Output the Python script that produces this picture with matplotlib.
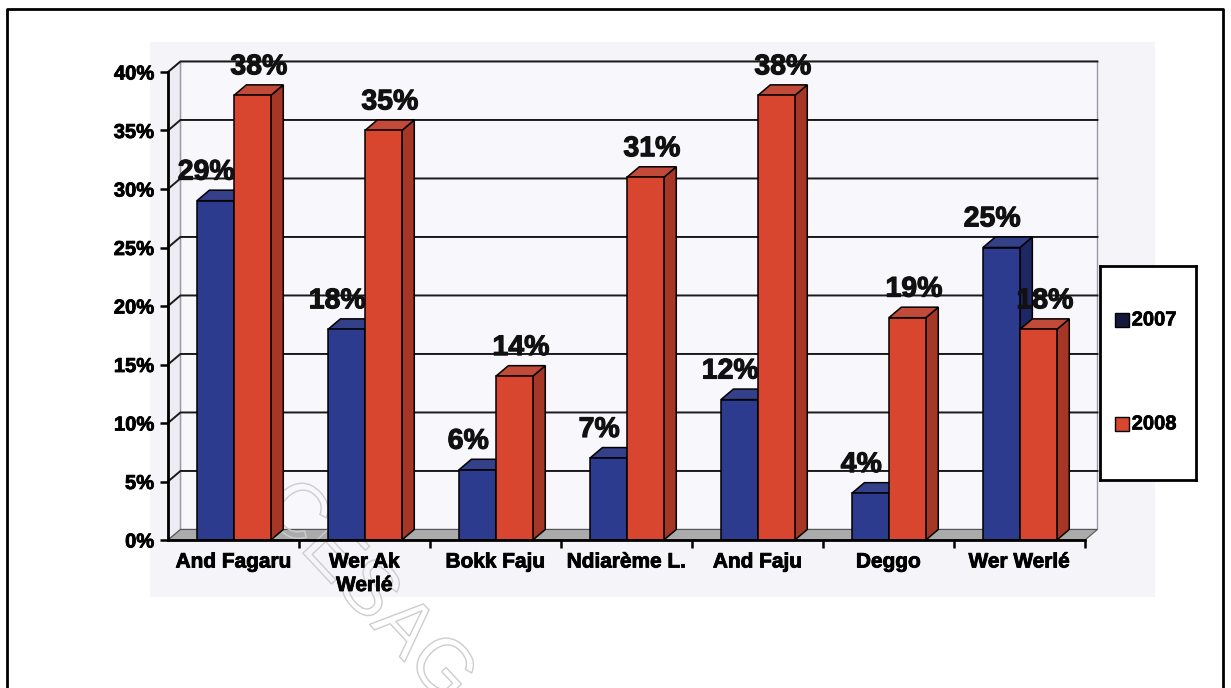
import numpy as np
import matplotlib
matplotlib.use('Agg')
import matplotlib.pyplot as plt
import matplotlib.patheffects as pe
from matplotlib.patches import Polygon, Rectangle, PathPatch
from matplotlib.lines import Line2D
from matplotlib.textpath import TextPath
from matplotlib.font_manager import FontProperties
from matplotlib.transforms import Affine2D

categories = ['And Fagaru', 'Wer Ak\nWerlé', 'Bokk Faju', 'Ndiarème L.',
              'And Faju', 'Deggo', 'Wer Werlé']
pct_2007 = [29, 18, 6, 7, 12, 4, 25]
pct_2008 = [38, 35, 14, 31, 38, 19, 18]
years = ['2007', '2008']
yticks = np.arange(0, 41, 5)

plt.rcParams['font.family'] = ['Liberation Sans', 'DejaVu Sans']

W, H = 1231, 688
DPI = 100
heavy = [pe.withStroke(linewidth=0.8, foreground='#111111')]

def fpos(x, y):
    # pixel position (from top-left) -> figure fraction
    return x / W, 1 - y / H

fig = plt.figure(figsize=(W / DPI, H / DPI), dpi=DPI)

# light chart area and outer frame
x0, y0 = fpos(150, 597)
fig.patches.append(Rectangle((x0, y0), 1005 / W, 555 / H, transform=fig.transFigure,
                             facecolor='#f5f5f9', edgecolor='none', zorder=-5))
fig.add_artist(Line2D([7 / W, 7 / W, 1223 / W, 1223 / W], [0, 1 - 9 / H, 1 - 9 / H, 0],
                      transform=fig.transFigure, color='black', lw=2, zorder=-4))

ax = fig.add_axes([168 / W, 148 / H, 917 / W, 468 / H])
ax.patch.set_visible(False)
n = len(categories)
ymax = 40
dx, dy = 0.095, 0.9   # depth offset of the 3d look

# walls and floor
ax.add_patch(Rectangle((dx, dy), n, ymax, facecolor='#f8f8fc', edgecolor='#9a9aa8',
                       lw=1, zorder=0.5, clip_on=False))
ax.add_patch(Polygon([(0, 0), (dx, dy), (dx, ymax + dy), (0, ymax)], facecolor='#ececf2',
                     edgecolor='#9a9aa8', lw=1, zorder=0.6, clip_on=False))
ax.add_patch(Polygon([(0, 0), (n, 0), (n + dx, dy), (dx, dy)], facecolor='#ababab',
                     edgecolor='#555555', lw=0.8, zorder=0.7, clip_on=False))
for t in yticks[1:]:
    ax.plot([0, dx, n + dx], [t, t + dy, t + dy], color='#1a1a1a', lw=1.4,
            zorder=0.8, clip_on=False)

# watermark
tp = TextPath((0, 0), 'CESAG', size=56, prop=FontProperties(family='Liberation Sans'))
bb = tp.get_extents()
tr = (Affine2D().translate(-(bb.x0 + bb.x1) / 2, -(bb.y0 + bb.y1) / 2)
      .scale(DPI / 72).rotate_deg(-47).translate(372, H - 588))
ax.add_artist(PathPatch(tp, transform=tr, facecolor='none', edgecolor='#cdcdcd',
                        lw=1.0, zorder=1, clip_on=False))

# bars
width = 0.282
offsets = [0.221, 0.503]
shades = [('#2c3b8e', '#1d2763', '#34408a'), ('#d9462f', '#a63626', '#c24a38')]
label_shift = [-0.07, 0.05]
series = [pct_2007, pct_2008]
for i in range(n):
    for j in range(2):
        h = series[j][i]
        a = i + offsets[j]
        b = a + width
        front, side, top = shades[j]
        ax.add_patch(Polygon([(b, 0), (b + dx, dy), (b + dx, h + dy), (b, h)],
                             facecolor=side, edgecolor='black', lw=1.1, zorder=2))
        ax.add_patch(Polygon([(a, h), (b, h), (b + dx, h + dy), (a + dx, h + dy)],
                             facecolor=top, edgecolor='black', lw=1.1, zorder=2))
        ax.add_patch(Polygon([(a, 0), (b, 0), (b, h), (a, h)],
                             facecolor=front, edgecolor='black', lw=1.1, zorder=2.1))
        ax.text(a + width / 2 + label_shift[j], h + 2.4, f'{h}%', ha='center', va='center',
                fontsize=20.5, fontweight='bold', color='#111111', zorder=5, clip_on=False,
                path_effects=heavy)

ax.set_xlim(0, n)
ax.set_ylim(0, ymax)
ax.set_yticks(yticks)
ax.set_yticklabels([f'{t}%' for t in yticks], fontsize=14.5, fontweight='bold')
ax.tick_params(axis='y', direction='out', length=6, width=1.8, pad=4)
ax.set_xticks(np.arange(1, n + 1))
ax.set_xticklabels([])
ax.tick_params(axis='x', which='major', direction='out', length=6, width=1.8)
ax.set_xticks(np.arange(n) + 0.5, minor=True)
ax.set_xticklabels(categories, minor=True, fontsize=15, fontweight='bold',
                   linespacing=1.3)
ax.tick_params(axis='x', which='minor', length=0, pad=9)
for lbl in ax.get_yticklabels() + ax.get_xticklabels(minor=True):
    lbl.set_path_effects([pe.withStroke(linewidth=0.6, foreground='black')])
for s in ['top', 'right']:
    ax.spines[s].set_visible(False)
for s in ['left', 'bottom']:
    ax.spines[s].set_linewidth(2)
    ax.spines[s].set_zorder(3)

# legend box
lax = fig.add_axes([1100 / W, 1 - 480 / H, 96 / W, 214 / H])
lax.set_xlim(0, 1)
lax.set_ylim(0, 1)
lax.set_xticks([])
lax.set_yticks([])
for s in lax.spines.values():
    s.set_linewidth(2)
legend_colors = ['#14183a', shades[1][0]]
for k, yc in enumerate([0.748, 0.262]):
    lax.add_patch(Rectangle((0.16, yc - 0.033), 0.145, 0.066, facecolor=legend_colors[k],
                            edgecolor='black', lw=1))
    lax.text(0.33, yc, years[k], ha='left', va='center', fontsize=14.5, fontweight='bold',
             path_effects=[pe.withStroke(linewidth=0.5, foreground='black')])

fig.savefig('out.png', dpi=DPI)
